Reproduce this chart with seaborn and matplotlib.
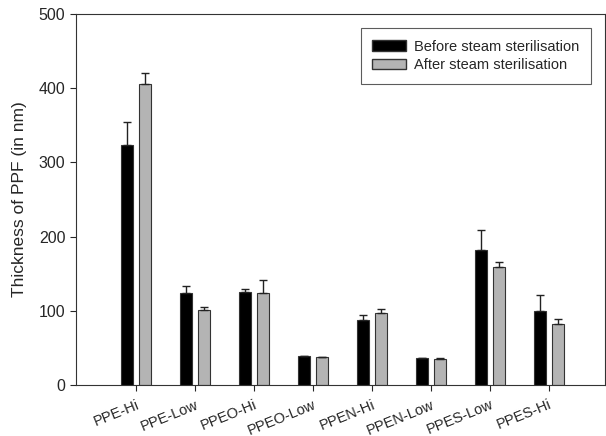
import numpy as np
import pandas as pd
import seaborn as sns
import matplotlib.pyplot as plt
from matplotlib.patches import Patch

sns.set_style("white")
plt.rcParams['font.family'] = ['Liberation Sans', 'DejaVu Sans']

samples = ['PPE-Hi', 'PPE-Low', 'PPEO-Hi', 'PPEO-Low', 'PPEN-Hi', 'PPEN-Low', 'PPES-Low', 'PPES-Hi']
before = [323, 124, 125, 39, 88, 37, 182, 100]
before_err = [31, 9, 4, 0, 6, 0, 27, 21]
after = [406, 101, 124, 38, 97, 35, 159, 82]
after_err = [14, 4, 17, 0, 5, 2, 7, 7]
groups = ['Before steam sterilisation', 'After steam sterilisation']

df = pd.DataFrame({
    'Sample': samples * 2,
    'Thickness': before + after,
    'Err': before_err + after_err,
    'Group': [groups[0]] * len(samples) + [groups[1]] * len(samples),
})

colors = ['#000000', '#b4b4b4']

fig = plt.figure(figsize=(6.06, 4.36), dpi=100)
ax = fig.add_axes([0.125, 0.117, 0.873, 0.851])
sns.barplot(data=df, x='Sample', y='Thickness', hue='Group', palette=colors,
            width=0.6, gap=1/3, edgecolor='#333333', linewidth=0.8,
            errorbar=None, legend=False, ax=ax)

# one-sided error bars on top of each bar
for i, g in enumerate(groups):
    sub = df[df['Group'] == g]
    offset = -0.15 if i == 0 else 0.15
    xs = np.arange(len(samples)) + offset
    errs = sub['Err'].values
    ax.errorbar(xs, sub['Thickness'].values, yerr=[np.zeros_like(errs), errs],
                fmt='none', ecolor='#222222', elinewidth=1, capsize=3, capthick=1)

ax.set_ylim(0, 500)
ax.set_xlim(-1.02, 7.95)
ax.set_yticks(range(0, 501, 100))
ax.set_xlabel('')
ax.set_ylabel('Thickness of PPF (in nm)', fontsize=12.5, labelpad=8)
ax.tick_params(axis='both', direction='out', length=4, width=0.8,
               bottom=True, left=True)
ax.tick_params(axis='y', labelsize=11.5)
ax.tick_params(axis='x', labelsize=10.5, pad=5)
plt.setp(ax.get_xticklabels(), rotation=22, ha='right', rotation_mode='anchor')
for s in ax.spines.values():
    s.set_color('#333333')
    s.set_linewidth(0.8)

handles = [Patch(facecolor=c, edgecolor='#333333', label=g) for c, g in zip(colors, groups)]
leg = ax.legend(handles=handles, loc='upper right', bbox_to_anchor=(0.9735, 0.962),
                borderaxespad=0, fontsize=10.5, frameon=True, fancybox=False,
                edgecolor='#333333', handlelength=2.3, handleheight=0.75,
                handletextpad=0.55, borderpad=0.8, labelspacing=0.3)
leg.get_frame().set_linewidth(0.8)

fig.savefig('out.png', dpi=100)
